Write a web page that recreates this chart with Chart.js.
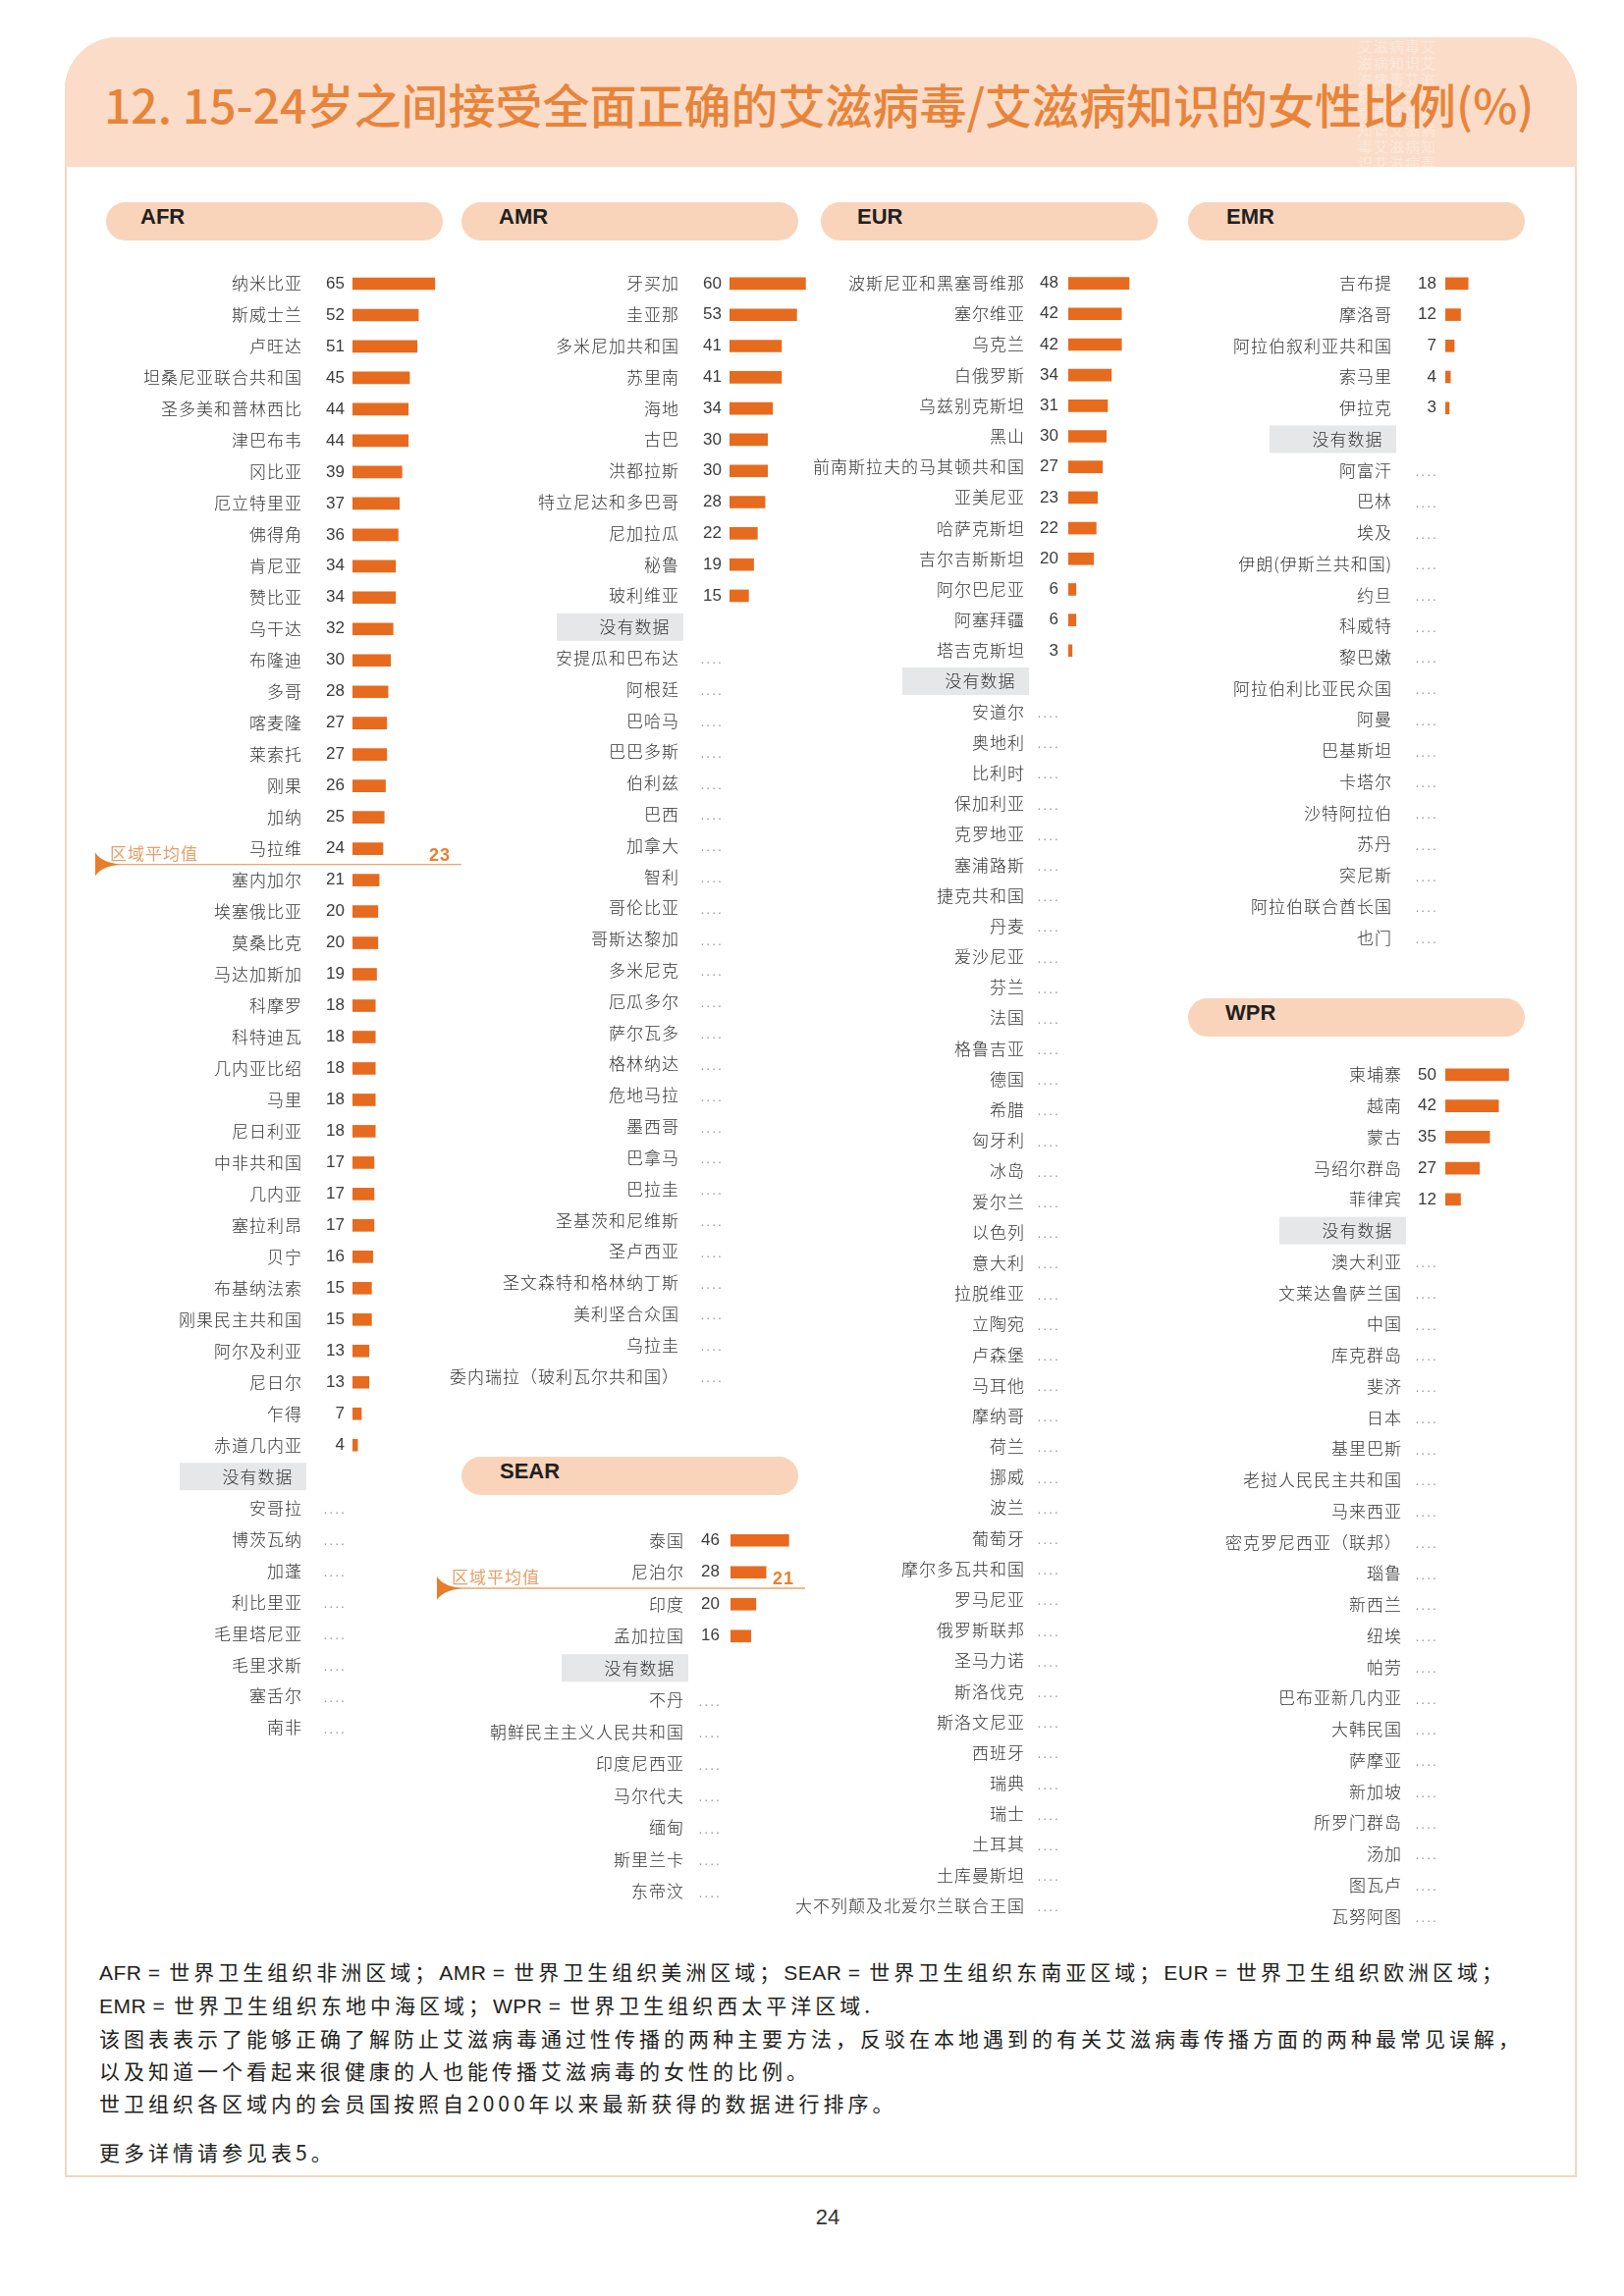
<!DOCTYPE html>
<html>
<head>
<meta charset="utf-8">
<title>15-24岁女性艾滋病知识比例</title>
<style>
  html, body { margin: 0; padding: 0; background: #fff; }
  body { width: 1654px; height: 2339px; position: relative; overflow: hidden;
         font-family: "Noto Sans CJK SC", "Noto Sans", sans-serif; }
  #frame { position: absolute; left: 66px; top: 38px; width: 1540px; height: 2180px; box-sizing: border-box;
           border: 2px solid #f5d5bf; border-radius: 54px 54px 0 0; }
  #band { position: absolute; left: 66px; top: 38px; width: 1540px; height: 132px;
          background: #fadcc8; border-radius: 54px 54px 0 0; overflow: hidden; }
  #stamp { position: absolute; left: 1317px; top: 0; width: 92px; height: 132px; color: #fff; opacity: .35;
           font-size: 15px; line-height: 17px; letter-spacing: 1px; word-break: break-all; overflow: hidden; }
  #title { position: absolute; left: 106px; top: 74px; font-size: 48px; line-height: 62px;
           color: #e8843a; font-weight: 500; white-space: nowrap; }
  .pill { position: absolute; height: 39px; background: #f9d4bb; border-radius: 20px; }
  .pill span { position: absolute; top: 2px; line-height: 39px; font: bold 22px "Liberation Sans", sans-serif; color: #231f20; }
  canvas { position: absolute; }
  #notes { position: absolute; left: 101px; top: 1992px; font-size: 21px; font-weight: 400; line-height: 33px;
           letter-spacing: 4px; color: #231f20; white-space: nowrap; }
  #notes .lat { font-family: "Liberation Sans Narrow", "Liberation Sans", sans-serif; letter-spacing: 0.5px; }
  #more { position: absolute; left: 101px; top: 2176px; font-size: 21px; font-weight: 400; line-height: 33px;
          letter-spacing: 4px; color: #231f20; }
  #page { position: absolute; left: 823px; top: 2246px; width: 40px; text-align: center;
          font: 22px "Liberation Sans Narrow", "Liberation Sans", sans-serif; color: #333; }
</style>
</head>
<body>
  <div id="frame"></div>
  <div id="band"><div id="stamp">艾滋病毒艾滋病知识艾滋病毒艾滋病知识艾滋病毒艾滋病知识艾滋病毒艾滋病知识艾滋病毒艾滋病知识艾滋病毒艾滋病知识艾滋病毒</div></div>
  <div id="title">12. 15-24岁之间接受全面正确的艾滋病毒/艾滋病知识的女性比例(%)</div>

  <div class="pill" style="left:108px;top:206px;width:343px"><span style="left:35px">AFR</span></div>
  <div class="pill" style="left:470px;top:206px;width:343px"><span style="left:38px">AMR</span></div>
  <div class="pill" style="left:836px;top:206px;width:343px"><span style="left:37px">EUR</span></div>
  <div class="pill" style="left:1210px;top:206px;width:343px"><span style="left:39px">EMR</span></div>
  <div class="pill" style="left:470px;top:1484px;width:343px"><span style="left:39px">SEAR</span></div>
  <div class="pill" style="left:1210px;top:1017px;width:343px"><span style="left:38px">WPR</span></div>

  <div id="notes">
    <div><span class="lat">AFR =</span> 世界卫生组织非洲区域；<span class="lat">AMR =</span> 世界卫生组织美洲区域；<span class="lat">SEAR =</span> 世界卫生组织东南亚区域；<span class="lat">EUR =</span> 世界卫生组织欧洲区域；</div>
    <div><span class="lat">EMR =</span> 世界卫生组织东地中海区域；<span class="lat">WPR =</span> 世界卫生组织西太平洋区域.</div>
    <div>该图表表示了能够正确了解防止艾滋病毒通过性传播的两种主要方法，反驳在本地遇到的有关艾滋病毒传播方面的两种最常见误解，</div>
    <div>以及知道一个看起来很健康的人也能传播艾滋病毒的女性的比例。</div>
    <div>世卫组织各区域内的会员国按照自2000年以来最新获得的数据进行排序。</div>
  </div>
  <div id="more">更多详情请参见表5。</div>
  <div id="page">24</div>

  <script src="https://cdn.jsdelivr.net/npm/chart.js@4.4.1/dist/chart.umd.min.js"></script>
  <script>

const NO_DATA = '没有数据';

// AFR
const afrCountries = ['纳米比亚', '斯威士兰', '卢旺达', '坦桑尼亚联合共和国', '圣多美和普林西比', '津巴布韦', '冈比亚',
    '厄立特里亚', '佛得角', '肯尼亚', '赞比亚', '乌干达', '布隆迪', '多哥', '喀麦隆', '莱索托', '刚果', '加纳', '马拉维',
    '塞内加尔', '埃塞俄比亚', '莫桑比克', '马达加斯加', '科摩罗', '科特迪瓦', '几内亚比绍', '马里', '尼日利亚',
    '中非共和国', '几内亚', '塞拉利昂', '贝宁', '布基纳法索', '刚果民主共和国', '阿尔及利亚', '尼日尔', '乍得', '赤道几内亚',
    NO_DATA, '安哥拉', '博茨瓦纳', '加蓬', '利比里亚', '毛里塔尼亚', '毛里求斯', '塞舌尔', '南非'];
const afrValues = [65, 52, 51, 45, 44, 44, 39, 37, 36, 34, 34, 32, 30, 28, 27, 27, 26, 25, 24,
    21, 20, 20, 19, 18, 18, 18, 18, 18, 17, 17, 17, 16, 15, 15, 13, 13, 7, 4];
const afrAverage = 23;

// AMR
const amrCountries = ['牙买加', '圭亚那', '多米尼加共和国', '苏里南', '海地', '古巴', '洪都拉斯', '特立尼达和多巴哥',
    '尼加拉瓜', '秘鲁', '玻利维亚', NO_DATA, '安提瓜和巴布达', '阿根廷', '巴哈马', '巴巴多斯', '伯利兹', '巴西', '加拿大',
    '智利', '哥伦比亚', '哥斯达黎加', '多米尼克', '厄瓜多尔', '萨尔瓦多', '格林纳达', '危地马拉', '墨西哥', '巴拿马',
    '巴拉圭', '圣基茨和尼维斯', '圣卢西亚', '圣文森特和格林纳丁斯', '美利坚合众国', '乌拉圭', '委内瑞拉（玻利瓦尔共和国）'];
const amrValues = [60, 53, 41, 41, 34, 30, 30, 28, 22, 19, 15];

// EUR
const eurCountries = ['波斯尼亚和黑塞哥维那', '塞尔维亚', '乌克兰', '白俄罗斯', '乌兹别克斯坦', '黑山',
    '前南斯拉夫的马其顿共和国', '亚美尼亚', '哈萨克斯坦', '吉尔吉斯斯坦', '阿尔巴尼亚', '阿塞拜疆', '塔吉克斯坦', NO_DATA,
    '安道尔', '奥地利', '比利时', '保加利亚', '克罗地亚', '塞浦路斯', '捷克共和国', '丹麦', '爱沙尼亚', '芬兰', '法国',
    '格鲁吉亚', '德国', '希腊', '匈牙利', '冰岛', '爱尔兰', '以色列', '意大利', '拉脱维亚', '立陶宛', '卢森堡', '马耳他',
    '摩纳哥', '荷兰', '挪威', '波兰', '葡萄牙', '摩尔多瓦共和国', '罗马尼亚', '俄罗斯联邦', '圣马力诺', '斯洛伐克',
    '斯洛文尼亚', '西班牙', '瑞典', '瑞士', '土耳其', '土库曼斯坦', '大不列颠及北爱尔兰联合王国'];
const eurValues = [48, 42, 42, 34, 31, 30, 27, 23, 22, 20, 6, 6, 3];

// EMR
const emrCountries = ['吉布提', '摩洛哥', '阿拉伯叙利亚共和国', '索马里', '伊拉克', NO_DATA, '阿富汗', '巴林', '埃及',
    '伊朗(伊斯兰共和国)', '约旦', '科威特', '黎巴嫩', '阿拉伯利比亚民众国', '阿曼', '巴基斯坦', '卡塔尔', '沙特阿拉伯',
    '苏丹', '突尼斯', '阿拉伯联合酋长国', '也门'];
const emrValues = [18, 12, 7, 4, 3];

// SEAR
const searCountries = ['泰国', '尼泊尔', '印度', '孟加拉国', NO_DATA, '不丹', '朝鲜民主主义人民共和国', '印度尼西亚',
    '马尔代夫', '缅甸', '斯里兰卡', '东帝汶'];
const searValues = [46, 28, 20, 16];
const searAverage = 21;

// WPR
const wprCountries = ['柬埔寨', '越南', '蒙古', '马绍尔群岛', '菲律宾', NO_DATA, '澳大利亚', '文莱达鲁萨兰国', '中国',
    '库克群岛', '斐济', '日本', '基里巴斯', '老挝人民民主共和国', '马来西亚', '密克罗尼西亚（联邦）', '瑙鲁', '新西兰',
    '纽埃', '帕劳', '巴布亚新几内亚', '大韩民国', '萨摩亚', '新加坡', '所罗门群岛', '汤加', '图瓦卢', '瓦努阿图'];
const wprValues = [50, 42, 35, 27, 12];


const ORANGE = '#e66b1f';
const LABEL_FONT = '"Noto Sans CJK SC", "Noto Sans", sans-serif';
const PLOT_W = 129;   // width of the bar area for 0..100 %
const PAD = 20;

const rowMarks = {
    id: 'rowMarks',
    beforeDraw(chart, args, o) {
        let ctx = chart.ctx;
        let y = chart.scales.y;
        let lr = chart.chartArea.left - o.labelGap;
        chart.data.labels.forEach(function(lab, i) {
            if (lab !== NO_DATA) return;
            let yc = y.getPixelForValue(i);
            ctx.save();
            ctx.fillStyle = '#e6e7e8';
            ctx.fillRect(lr - 125, yc - 14, 129, 28);
            ctx.restore();
        });
        ctx.letterSpacing = '1px';
    },
    afterDatasetsDraw(chart, args, o) {
        let ctx = chart.ctx;
        let y = chart.scales.y;
        let vals = chart.data.datasets[0].data;
        let vx = chart.chartArea.left - o.valueGap;
        ctx.save();
        ctx.textAlign = 'right';
        ctx.textBaseline = 'middle';
        chart.data.labels.forEach(function(lab, i) {
            if (lab === NO_DATA) return;
            let yc = y.getPixelForValue(i);
            if (vals[i] == null) {
                ctx.letterSpacing = '2px';
                ctx.font = '14px "Liberation Sans", sans-serif';
                ctx.fillStyle = '#9a9a9a';
                ctx.fillText('....', vx + 2, yc + 2);
            } else {
                ctx.letterSpacing = '0px';
                ctx.font = '17px "Liberation Sans Narrow", "Liberation Sans", sans-serif';
                ctx.fillStyle = '#3c3c3c';
                ctx.fillText(String(vals[i]), vx, yc);
            }
        });
        ctx.restore();
    },
    afterDraw(chart, args, o) {
        if (o.average == null) return;
        let ctx = chart.ctx;
        let y = chart.scales.y;
        let vals = chart.data.datasets[0].data;
        // line sits between the last country at or above the average and the next one
        let k = 0;
        vals.forEach(function(v, i) { if (v != null && v >= o.average) k = i; });
        let ly = (y.getPixelForValue(k) + y.getPixelForValue(k + 1)) / 2;
        let x0 = chart.chartArea.left + o.lineFrom;
        let x1 = chart.chartArea.left + o.lineTo;
        ctx.save();
        ctx.letterSpacing = '0px';
        ctx.strokeStyle = '#e9a56f';
        ctx.lineWidth = 1.3;
        ctx.beginPath();
        ctx.moveTo(x0, ly);
        ctx.lineTo(x1, ly);
        ctx.stroke();
        ctx.fillStyle = '#e87d2a';
        ctx.beginPath();
        ctx.moveTo(x0, ly - 12);
        ctx.quadraticCurveTo(x0 + 6, ly - 2, x0 + 26, ly);
        ctx.quadraticCurveTo(x0 + 6, ly + 2, x0, ly + 12);
        ctx.closePath();
        ctx.fill();
        ctx.letterSpacing = '1px';
        ctx.font = '17px ' + LABEL_FONT;
        ctx.fillStyle = '#e3a06a';
        ctx.textAlign = 'left';
        ctx.textBaseline = 'middle';
        ctx.fillText('区域平均值', x0 + 15, ly - 11);
        ctx.font = 'bold 18px "Liberation Sans", sans-serif';
        ctx.fillStyle = '#e8812f';
        ctx.textAlign = 'right';
        ctx.fillText(String(o.average), x1 - 11, ly - 9);
        ctx.restore();
    }
};

function makeRegionChart(labels, values, average, g) {
    let canvas = document.createElement('canvas');
    let axisW = g.barLeft - g.left;
    let areaTop = g.firstRow - g.step / 2;
    canvas.width = axisW + PLOT_W;
    canvas.height = Math.round(labels.length * g.step) + 2 * PAD;
    canvas.style.left = g.left + 'px';
    canvas.style.top = (areaTop - PAD) + 'px';
    document.body.append(canvas);

    let data = labels.map(function(l, i) { return i < values.length ? values[i] : null; });

    return new Chart(canvas.getContext('2d'), {
        type: 'bar',
        data: {
            labels: labels,
            datasets: [{ data: data, backgroundColor: ORANGE, borderWidth: 0, barThickness: 12 }]
        },
        options: {
            indexAxis: 'y',
            responsive: false,
            animation: false,
            devicePixelRatio: 1,
            layout: { padding: { top: PAD, bottom: PAD, left: 0, right: 0 } },
            plugins: {
                legend: { display: false },
                tooltip: { enabled: false },
                rowMarks: { labelGap: g.labelGap, valueGap: g.valueGap, average: average,
                            lineFrom: g.lineFrom, lineTo: g.lineTo }
            },
            scales: {
                x: { display: false, min: 0, max: 100 },
                y: {
                    grid: { display: false, drawTicks: false },
                    border: { display: false },
                    ticks: {
                        autoSkip: false,
                        padding: g.labelGap,
                        color: '#333333',
                        font: { family: LABEL_FONT, size: 17, weight: 300 },
                        callback: function(v) {
                            let l = this.getLabelForValue(v);
                            return l === NO_DATA ? l + '\u2002' : l;
                        }
                    },
                    afterFit: function(scale) {
                        scale.width = axisW;
                        scale.paddingTop = 0;
                        scale.paddingBottom = 0;
                    }
                }
            }
        },
        plugins: [rowMarks]
    });
}

makeRegionChart(afrCountries, afrValues, afrAverage,
    { left: 88, barLeft: 359, labelGap: 51, valueGap: 8, firstRow: 289, step: 31.98, lineFrom: -262, lineTo: 111 });
makeRegionChart(amrCountries, amrValues, null,
    { left: 455, barLeft: 743, labelGap: 51, valueGap: 8, firstRow: 289, step: 31.8 });
makeRegionChart(eurCountries, eurValues, null,
    { left: 806, barLeft: 1088, labelGap: 44, valueGap: 10, firstRow: 289, step: 31.19 });
makeRegionChart(emrCountries, emrValues, null,
    { left: 1240, barLeft: 1472, labelGap: 54, valueGap: 9, firstRow: 289, step: 31.73 });
makeRegionChart(searCountries, searValues, searAverage,
    { left: 440, barLeft: 744, labelGap: 47, valueGap: 11, firstRow: 1569, step: 32.54, lineFrom: -299, lineTo: 76 });
makeRegionChart(wprCountries, wprValues, null,
    { left: 1240, barLeft: 1472, labelGap: 44, valueGap: 9, firstRow: 1095, step: 31.75 });

  </script>
</body>
</html>
